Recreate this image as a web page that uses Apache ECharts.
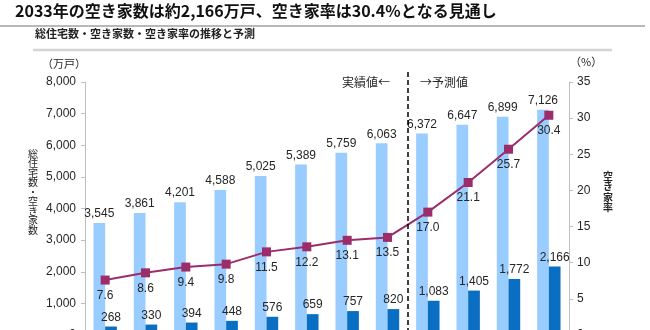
<!DOCTYPE html>
<html>
<head>
<meta charset="utf-8">
<script src="https://cdn.jsdelivr.net/npm/echarts@6/dist/echarts.min.js"></script>
<style>
  html, body { margin: 0; padding: 0; background: #fff; }
  #chart { width: 650px; height: 330px; }
</style>
</head>
<body>
<div id="chart"></div>
<script>
// Survey years (last four are projections)
const years = ['1978', '1983', '1988', '1993', '1998', '2003', '2008', '2013', '2018', '2023', '2028', '2033'];
// Total housing stock (10,000 units)
const totalHousing = [3545, 3861, 4201, 4588, 5025, 5389, 5759, 6063, 6372, 6647, 6899, 7126];
// Vacant houses (10,000 units)
const vacantHouses = [268, 330, 394, 448, 576, 659, 757, 820, 1083, 1405, 1772, 2166];
// Vacancy rate (%)
const vacancyRate = [7.6, 8.6, 9.4, 9.8, 11.5, 12.2, 13.1, 13.5, 17.0, 21.1, 25.7, 30.4];
// Index where the projected period begins
const forecastStart = 8;

const leftTicks = { min: 0, max: 8000, interval: 1000 };
const rightTicks = { min: 0, max: 35, interval: 5 };

const numFont = 'Liberation Sans, Arial, sans-serif';
const jpFont = 'Noto Sans CJK JP, sans-serif';
const textColor = '#262626';

const chart = echarts.init(document.getElementById('chart'), null, { renderer: 'canvas' });

const fmt = v => v.toLocaleString('en-US');

// vertical caption: one text element per character, stacked downward from the group origin
function verticalCaption(str, x, yTop, step, font) {
  return {
    type: 'group', x: x, y: yTop,
    children: Array.from(str).map((ch, i) => ({
      type: 'text', x: 0, y: i * step,
      style: { text: ch, fill: textColor, font: font, align: 'center', verticalAlign: 'top' }
    }))
  };
}

const option = {
  backgroundColor: '#ffffff',
  animation: false,
  grid: [
    { left: 85, right: 81, top: 82, height: 253, containLabel: false, outerBoundsMode: 'none' },
    // overlay grid used for the actual/projection separator
    { left: 85, right: 81, top: 72, height: 263, containLabel: false, outerBoundsMode: 'none' }
  ],
  xAxis: [
    {
      type: 'category', data: years, gridIndex: 0,
      axisLine: { lineStyle: { color: '#bfbfbf' } },
      axisTick: { show: false },
      axisLabel: { color: textColor, fontFamily: numFont, fontSize: 12 }
    },
    {
      type: 'value', gridIndex: 1, min: 0, max: years.length, show: false
    }
  ],
  yAxis: [
    {
      type: 'value', gridIndex: 0, min: leftTicks.min, max: leftTicks.max, interval: leftTicks.interval,
      axisLine: { show: true, lineStyle: { color: '#bfbfbf', width: 1 } },
      axisTick: { show: true, length: 4, lineStyle: { color: '#bfbfbf' } },
      splitLine: { show: false },
      axisLabel: { color: textColor, fontFamily: numFont, fontSize: 12, margin: 9, formatter: v => fmt(v) }
    },
    {
      type: 'value', gridIndex: 0, position: 'right', min: rightTicks.min, max: rightTicks.max, interval: rightTicks.interval,
      axisLine: { show: true, lineStyle: { color: '#bfbfbf', width: 1 } },
      axisTick: { show: true, length: 4, lineStyle: { color: '#bfbfbf' } },
      splitLine: { show: false },
      axisLabel: { color: textColor, fontFamily: numFont, fontSize: 12, margin: 8 }
    },
    {
      type: 'value', gridIndex: 1, min: 0, max: 1, show: false
    }
  ],
  series: [
    {
      name: '総住宅数', type: 'bar', xAxisIndex: 0, yAxisIndex: 0,
      data: totalHousing, barWidth: 11.7, barGap: '0%',
      itemStyle: { color: '#99ccff' },
      label: { show: true, position: 'top', distance: 3, color: textColor, fontFamily: numFont, fontSize: 12, formatter: p => fmt(p.value) },
      z: 2
    },
    {
      name: '空き家数', type: 'bar', xAxisIndex: 0, yAxisIndex: 0,
      data: vacantHouses, barWidth: 11.7, barGap: '0%',
      itemStyle: { color: '#0a6fc2' },
      label: { show: true, position: 'top', distance: 3, color: textColor, fontFamily: numFont, fontSize: 12, formatter: p => fmt(p.value) },
      z: 2
    },
    {
      name: '空き家率', type: 'line', xAxisIndex: 0, yAxisIndex: 1,
      data: vacancyRate,
      symbol: 'rect', symbolSize: 9,
      lineStyle: { color: '#9b2d6a', width: 2 },
      itemStyle: { color: '#9b2d6a' },
      label: { show: true, position: 'bottom', distance: 5, color: textColor, fontFamily: numFont, fontSize: 12, formatter: p => p.value.toFixed(1) },
      z: 4
    },
    {
      name: 'separator', type: 'line', xAxisIndex: 1, yAxisIndex: 2, data: [],
      markLine: {
        silent: true, symbol: 'none', animation: false,
        label: { show: false },
        lineStyle: { color: '#000', width: 1.5, type: [5, 3] },
        data: [[{ coord: [forecastStart, 1] }, { coord: [forecastStart, 0] }]]
      },
      z: 3
    }
  ],
  graphic: [
    {
      type: 'text', left: 15, top: 3,
      style: { text: '2033年の空き家数は約2,166万戸、空き家率は30.4%となる見通し', fill: '#111', font: 'bold 16px ' + jpFont }
    },
    { type: 'line', shape: { x1: 0, y1: 26, x2: 645, y2: 26 }, style: { stroke: '#a0a0a0', lineWidth: 1.5 } },
    {
      type: 'text', left: 35, top: 28,
      style: { text: '総住宅数・空き家数・空き家率の推移と予測', fill: '#222', font: 'bold 11px ' + jpFont }
    },
    { type: 'line', shape: { x1: 33, y1: 50, x2: 612, y2: 50 }, style: { stroke: '#d4d4d4', lineWidth: 2.5 } },
    {
      type: 'text', left: 42, top: 58,
      style: { text: '（万戸）', fill: textColor, font: '11px ' + jpFont }
    },
    {
      type: 'text', left: 570, top: 56,
      style: { text: '（%）', fill: textColor, font: '11px ' + jpFont }
    },
    verticalCaption('総住宅数・空き家数', 33, 149, 9.5, '10px ' + jpFont),
    verticalCaption('空き家率', 608, 171, 10.5, 'bold 10px ' + jpFont),
    {
      type: 'text', x: 390, y: 82,
      style: { text: '実績値←', fill: textColor, font: '12px ' + jpFont, align: 'right', verticalAlign: 'middle' }
    },
    {
      type: 'text', x: 420, y: 82,
      style: { text: '→予測値', fill: textColor, font: '12px ' + jpFont, align: 'left', verticalAlign: 'middle' }
    }
  ]
};

chart.setOption(option);
</script>
</body>
</html>
